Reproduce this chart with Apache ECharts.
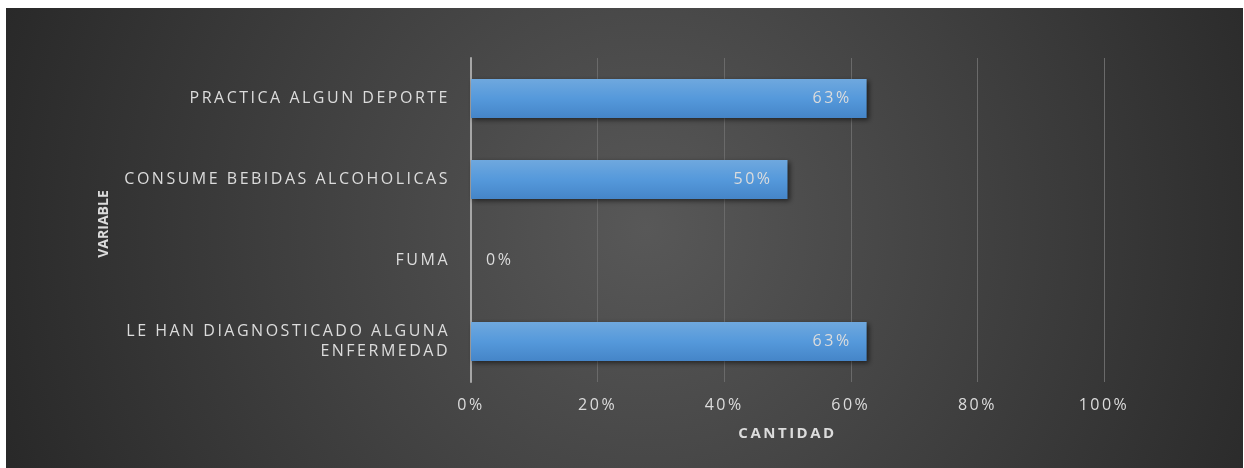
<!DOCTYPE html>
<html>
<head>
<meta charset="utf-8">
<script src="https://cdn.jsdelivr.net/npm/echarts@6/dist/echarts.min.js"></script>
<style>
html,body{margin:0;padding:0;background:#fff;width:1244px;height:468px;overflow:hidden;}
#c{position:absolute;left:6px;top:8px;width:1237px;height:460px;}
</style>
</head>
<body>
<div id="c"></div>
<script>
const categories = ['PRACTICA ALGUN DEPORTE', 'CONSUME BEBIDAS ALCOHOLICAS', 'FUMA', 'LE HAN DIAGNOSTICADO ALGUNA\nENFERMEDAD'];
const values = [62.5, 50, 0, 62.5];
const xTicks = [0, 20, 40, 60, 80, 100];
const xAxisName = 'CANTIDAD';
const yAxisName = 'VARIABLE';

const chart = echarts.init(document.getElementById('c'));
const txt = '#dcdcdc';
const font = '"Open Sans", "Noto Sans", sans-serif';
const option = {
  backgroundColor: {
    type: 'radial', x: 640, y: 220, r: 720, global: true,
    colorStops: [{offset: 0, color: '#585858'}, {offset: 1, color: '#262626'}]
  },
  animation: false,
  grid: {left: 465, right: 139, top: 50, bottom: 86, containLabel: false},
  xAxis: {
    type: 'value', min: xTicks[0], max: xTicks[xTicks.length - 1], interval: 20,
    name: xAxisName, nameLocation: 'middle', nameGap: 44,
    nameTextStyle: {color: txt, fontSize: 15, fontWeight: 'bold', fontFamily: font},
    axisLine: {show: false}, axisTick: {show: false},
    axisLabel: {color: txt, fontSize: 16, fontFamily: font, margin: 15, formatter: v => v + '%'},
    splitLine: {lineStyle: {color: '#6a6a6a', width: 1}}
  },
  yAxis: [{
    type: 'category', data: categories, inverse: true,
    axisLine: {show: true, lineStyle: {color: '#a6a6a6', width: 2}},
    axisTick: {show: false},
    axisLabel: {color: txt, fontSize: 16, fontFamily: font, margin: 21, align: 'right', lineHeight: 20},
    splitLine: {show: false}
  }, {
    type: 'category', data: categories, inverse: true, position: 'left', zlevel: 1,
    name: yAxisName, nameLocation: 'middle', nameGap: 360, nameRotate: 90,
    nameTextStyle: {color: txt, fontSize: 14, fontWeight: 'bold', fontFamily: font, padding: [0, 8, 0, 0]},
    axisLine: {show: false}, axisTick: {show: false}, axisLabel: {show: false}, splitLine: {show: false}
  }],
  series: [{
    type: 'bar', barWidth: 39, yAxisIndex: 0,
    data: values.map(v => ({
      value: v,
      label: {position: v === 0 ? 'right' : 'insideRight', distance: 15}
    })),
    itemStyle: {
      color: {type: 'linear', x: 0, y: 0, x2: 0, y2: 1,
        colorStops: [{offset: 0, color: '#6fa8de'}, {offset: 0.5, color: '#5599db'}, {offset: 1, color: '#4585c8'}]},
      shadowColor: 'rgba(0,0,0,0.55)', shadowBlur: 5, shadowOffsetX: 2, shadowOffsetY: 2
    },
    label: {show: true, color: txt, fontSize: 16, fontFamily: font,
      formatter: p => Math.round(p.value) + '%'}
  }]
};
chart.setOption(option);
// widen the letter spacing of texts on the main canvas layer, like the reference rendering
try {
  const layer = chart.getZr().painter.getLayer(0);
  if (layer && layer.ctx && 'letterSpacing' in layer.ctx) {
    layer.ctx.letterSpacing = '2.5px';
    chart.setOption(option, true);
  }
} catch (e) {}
</script>
</body>
</html>
